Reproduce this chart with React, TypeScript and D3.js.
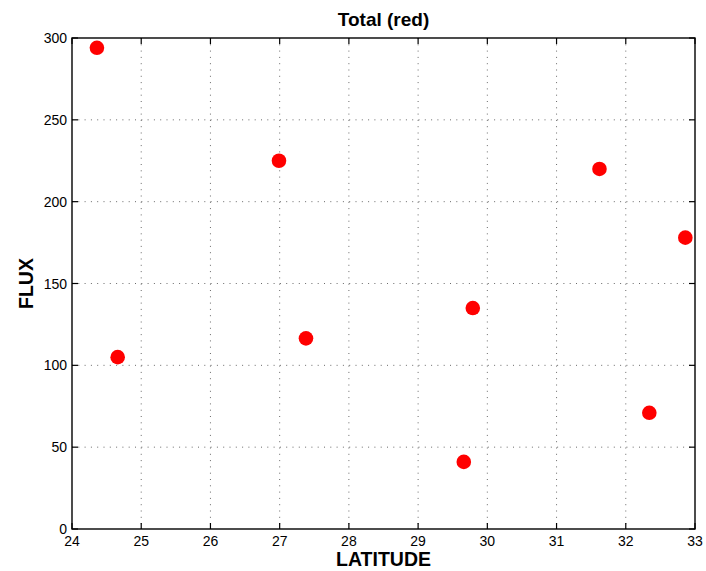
import React from "react";
import * as d3 from "d3";

const latitude = [24.36, 24.66, 26.99, 27.38, 29.66, 29.79, 31.62, 32.34, 32.86];
const flux = [294, 105, 225, 116.5, 41, 135, 220, 71, 178];
const xTicks = [24, 25, 26, 27, 28, 29, 30, 31, 32, 33];
const yTicks = [0, 50, 100, 150, 200, 250, 300];

export default function App() {
  const W = 706, H = 571;
  const left = 72, right = 695, top = 38, bottom = 529;
  const x = d3.scaleLinear().domain([24, 33]).range([left, right]);
  const y = d3.scaleLinear().domain([0, 300]).range([bottom, top]);
  const font = "Helvetica, 'Liberation Sans', Arial, sans-serif";
  return (
    <svg width={W} height={H} style={{ position: "absolute", left: 0, top: 0 }} fontFamily={font}>
      <rect x={0} y={0} width={W} height={H} fill="#fff" />
      {xTicks.slice(1, -1).map((t) => (
        <line key={"gx" + t} x1={x(t)} x2={x(t)} y1={top} y2={bottom} stroke="#444" strokeWidth={0.8} strokeDasharray="1,5.3" />
      ))}
      {yTicks.slice(1, -1).map((t) => (
        <line key={"gy" + t} x1={left} x2={right} y1={y(t)} y2={y(t)} stroke="#444" strokeWidth={0.8} strokeDasharray="1,5.3" />
      ))}
      <rect x={left} y={top} width={right - left} height={bottom - top} fill="none" stroke="#000" strokeWidth={1.4} />
      {xTicks.map((t) => (
        <g key={"tx" + t}>
          <line x1={x(t)} x2={x(t)} y1={bottom} y2={bottom - 6} stroke="#000" strokeWidth={1.2} />
          <line x1={x(t)} x2={x(t)} y1={top} y2={top + 6} stroke="#000" strokeWidth={1.2} />
          <text x={x(t)} y={bottom + 17} fontSize={14} textAnchor="middle">{t}</text>
        </g>
      ))}
      {yTicks.map((t) => (
        <g key={"ty" + t}>
          <line x1={left} x2={left + 6} y1={y(t)} y2={y(t)} stroke="#000" strokeWidth={1.2} />
          <line x1={right} x2={right - 6} y1={y(t)} y2={y(t)} stroke="#000" strokeWidth={1.2} />
          <text x={left - 5} y={y(t) + 5} fontSize={14} textAnchor="end">{t}</text>
        </g>
      ))}
      {latitude.map((v, i) => (
        <circle key={"p" + i} cx={x(v)} cy={y(flux[i])} r={7.3} fill="#ff0000" />
      ))}
      <text x={(left + right) / 2} y={26} fontSize={19} fontWeight="bold" textAnchor="middle">Total (red)</text>
      <text x={(left + right) / 2} y={566} fontSize={19.5} fontWeight="bold" textAnchor="middle">LATITUDE</text>
      <text transform={`translate(33,${(top + bottom) / 2}) rotate(-90)`} fontSize={19.5} fontWeight="bold" textAnchor="middle">FLUX</text>
    </svg>
  );
}
